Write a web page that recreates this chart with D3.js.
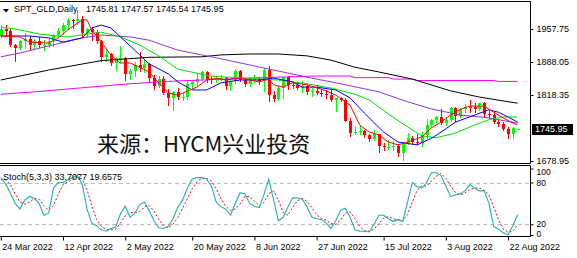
<!DOCTYPE html>
<html><head><meta charset="utf-8">
<script src="https://cdn.jsdelivr.net/npm/d3@7"></script>
<style>
html,body{margin:0;padding:0;background:#fff;overflow:hidden}
svg{display:block;font-family:"Liberation Sans",Arial,sans-serif}
</style></head><body>
<svg id="c" width="577" height="258"></svg>
<script>
const dates = ["2022-03-24","2022-03-25","2022-03-28","2022-03-29","2022-03-30","2022-03-31","2022-04-01","2022-04-04","2022-04-05","2022-04-06","2022-04-07","2022-04-08","2022-04-11","2022-04-12","2022-04-13","2022-04-14","2022-04-18","2022-04-19","2022-04-20","2022-04-21","2022-04-22","2022-04-25","2022-04-26","2022-04-27","2022-04-28","2022-04-29","2022-05-02","2022-05-03","2022-05-04","2022-05-05","2022-05-06","2022-05-09","2022-05-10","2022-05-11","2022-05-12","2022-05-13","2022-05-16","2022-05-17","2022-05-18","2022-05-19","2022-05-20","2022-05-23","2022-05-24","2022-05-25","2022-05-26","2022-05-27","2022-05-30","2022-05-31","2022-06-01","2022-06-02","2022-06-03","2022-06-06","2022-06-07","2022-06-08","2022-06-09","2022-06-10","2022-06-13","2022-06-14","2022-06-15","2022-06-16","2022-06-17","2022-06-20","2022-06-21","2022-06-22","2022-06-23","2022-06-24","2022-06-27","2022-06-28","2022-06-29","2022-06-30","2022-07-01","2022-07-04","2022-07-05","2022-07-06","2022-07-07","2022-07-08","2022-07-11","2022-07-12","2022-07-13","2022-07-14","2022-07-15","2022-07-18","2022-07-19","2022-07-20","2022-07-21","2022-07-22","2022-07-25","2022-07-26","2022-07-27","2022-07-28","2022-07-29","2022-08-01","2022-08-02","2022-08-03","2022-08-04","2022-08-05","2022-08-08","2022-08-09","2022-08-10","2022-08-11","2022-08-12","2022-08-15","2022-08-16","2022-08-17","2022-08-18","2022-08-19","2022-08-22","2022-08-23","2022-08-24"];
const open  = [1943,1958,1954,1923,1918,1933,1937,1925,1933,1923,1925,1932,1946,1954,1966,1977,1974,1979,1950,1958,1951,1932,1898,1905,1886,1894,1897,1863,1868,1881,1876,1883,1855,1838,1852,1822,1811,1824,1815,1815,1841,1846,1853,1866,1853,1850,1853,1855,1837,1847,1869,1850,1841,1852,1853,1848,1871,1819,1809,1834,1857,1840,1839,1833,1838,1825,1827,1823,1820,1818,1807,1811,1808,1764,1739,1740,1742,1733,1725,1735,1711,1708,1709,1711,1696,1718,1727,1719,1717,1733,1755,1765,1772,1760,1765,1791,1775,1789,1794,1792,1789,1802,1779,1776,1761,1758,1747,1736,1745.81];
const high  = [1966,1966,1960,1926,1935,1950,1944,1937,1941,1934,1939,1948,1959,1970,1981,1979,1998,1985,1960,1961,1956,1935,1916,1907,1898,1921,1898,1874,1889,1910,1892,1885,1860,1859,1858,1830,1826,1834,1823,1848,1849,1865,1869,1869,1857,1858,1860,1856,1849,1874,1871,1855,1856,1860,1857,1876,1879,1826,1838,1857,1858,1846,1846,1847,1839,1833,1840,1832,1829,1829,1813,1815,1812,1770,1752,1752,1744,1736,1745,1737,1716,1723,1722,1714,1720,1739,1731,1737,1740,1767,1767,1775,1788,1771,1794,1792,1791,1800,1807,1802,1802,1804,1784,1782,1765,1761,1750,1750,1747.57];
const low   = [1941,1944,1922,1890,1915,1917,1915,1917,1919,1914,1920,1922,1940,1948,1958,1960,1969,1944,1940,1935,1929,1891,1891,1881,1872,1889,1850,1853,1859,1869,1866,1848,1832,1836,1821,1798,1787,1810,1807,1810,1834,1840,1850,1846,1844,1846,1849,1830,1828,1843,1847,1837,1837,1846,1842,1826,1805,1806,1807,1812,1832,1833,1830,1825,1820,1816,1821,1816,1812,1805,1784,1805,1764,1732,1736,1737,1730,1722,1723,1697,1702,1704,1703,1690,1681,1715,1714,1714,1711,1727,1753,1759,1758,1754,1763,1764,1771,1782,1782,1783,1787,1772,1770,1759,1753,1745,1728,1727,1745.54];
const close = [1958,1954,1923,1918,1933,1937,1925,1933,1923,1925,1932,1946,1954,1966,1977,1974,1979,1950,1958,1951,1932,1898,1905,1886,1894,1897,1863,1868,1881,1876,1883,1855,1838,1852,1822,1811,1824,1815,1815,1841,1846,1853,1866,1853,1850,1853,1855,1837,1847,1869,1850,1841,1852,1853,1848,1871,1819,1809,1834,1857,1840,1839,1833,1838,1825,1827,1823,1820,1818,1807,1811,1808,1764,1739,1740,1742,1733,1725,1735,1711,1708,1709,1711,1696,1718,1727,1719,1717,1733,1755,1765,1772,1760,1765,1791,1775,1789,1794,1792,1789,1802,1779,1776,1761,1758,1747,1736,1748,1745.95];

// moving averages: [bar index, price]
const maRed = [[0,1943],[4,1941],[6,1930],[10,1928],[12,1939],[14,1956],[17,1977],[18,1977],[19,1956],[21,1930],[23,1903],[25,1886],[27,1886],[29,1877],[31,1867],[33,1844],[35,1823],[37,1818],[41,1835],[43,1850],[45,1854],[47,1850],[50,1854],[54,1846],[56,1852],[57,1840],[59,1835],[61,1844],[64,1840],[68,1827],[70,1818],[73,1797],[75,1755],[77,1740],[79,1734],[81,1719],[83,1713],[85,1719],[88,1730],[90,1749],[92,1761],[94,1776],[96,1788],[98,1795],[101,1795],[103,1782],[105,1770],[107,1759],[108,1755]];
const maBlue = [[0,1943],[6,1943],[10,1939],[13,1930],[17,1939],[19,1960],[21,1966],[23,1960],[25,1941],[28,1913],[31,1884],[35,1863],[37,1846],[40,1829],[43,1829],[46,1844],[50,1850],[54,1850],[57,1854],[61,1846],[63,1835],[66,1835],[70,1829],[73,1812],[76,1780],[80,1740],[83,1719],[87,1713],[90,1727],[92,1740],[95,1761],[99,1776],[102,1787],[104,1782],[106,1772],[108,1761]];
const maGreen = [[0,1962],[4,1956],[8,1947],[14,1941],[18,1947],[21,1951],[25,1941],[29,1924],[33,1901],[37,1873],[44,1858],[51,1854],[58,1850],[64,1842],[69,1833],[74,1820],[77,1808],[81,1778],[85,1751],[88,1732],[91,1728],[95,1738],[99,1755],[102,1766],[105,1772],[108,1772]];
const maPurple = [[0,1899],[4,1907],[10,1922],[17,1939],[21,1945],[27,1941],[31,1934],[37,1913],[44,1899],[51,1884],[58,1869],[65,1854],[72,1840],[79,1825],[85,1804],[90,1789],[96,1776],[102,1770],[108,1759]];
const maBlack = [[0,1850],[10,1871],[21,1891],[31,1898],[42,1899],[46,1903],[52,1905],[58,1905],[64,1901],[69,1892],[74,1877],[79,1867],[86,1852],[94,1827],[100,1814],[108,1801]];
const maMagenta = [[0,1820],[7,1825],[14,1831],[21,1837],[27,1842],[33,1846],[37,1848],[52,1854],[58,1856],[66,1858.5],[73,1858.5],[74,1855],[81,1855],[82,1852],[86,1852],[87,1849],[103,1849],[104,1847],[108,1847]];

const stochK = [87,78,65,50,42,55,60,57,50,33,36,72,80,80,84,87,90,78,42,22,18,12,10,14,16,35,46,30,36,48,52,40,25,15,14,17,28,45,55,72,85,87,87,85,75,52,45,42,33,50,65,64,50,46,44,63,85,55,25,30,45,58,58,56,45,30,28,27,22,14,25,40,43,30,12,10,10,9,20,33,33,28,24,27,24,52,80,74,72,80,94,94,90,75,60,62,64,68,77,72,68,68,50,17,13,8,5,18,33.7077];
const stochD = [84,84,77,64,52,49,52,57,56,47,40,47,63,77,81,84,87,85,70,47,27,17,13,12,13,22,32,37,37,38,45,47,39,27,18,15,20,30,43,57,71,81,86,86,82,71,57,46,40,42,49,60,60,53,47,51,64,68,55,37,33,44,54,57,53,44,34,28,26,21,20,26,36,38,28,17,11,10,13,21,29,31,28,26,25,34,52,69,75,75,82,89,93,86,75,66,62,65,70,72,72,69,62,45,27,13,9,10,19.6575];

const priceTicks = [1957.75, 1888.05, 1818.35, 1678.95];
const lastPrice = 1745.95;
const stochLevels = [80, 20];
const stochTicks = [100, 80, 20, 0];
const tickDates = ["2022-03-24","2022-04-12","2022-05-02","2022-05-20","2022-06-08","2022-06-27","2022-07-15","2022-08-03","2022-08-22"];
const tickLabels = ["24 Mar 2022","12 Apr 2022","2 May 2022","20 May 2022","8 Jun 2022","27 Jun 2022","15 Jul 2022","3 Aug 2022","22 Aug 2022"];
const headerSymbol = "SPT_GLD,Daily";
const headerValues = "1745.81 1747.57 1745.54 1745.95";
const stochTitle = "Stoch(5,3,3) 33.7077 19.6575";
const watermark = "来源：HYCM兴业投资";

const svg = d3.select("#c");
const right = 530;
const mainTop = 1.5, mainBot = 163.5, stTop = 165.5, stBot = 236.5;

const x = d3.scalePoint().domain(dates).range([0.8, 517.6]);
const xi = i => x(dates[i]);
const y = d3.scaleLinear().domain([1678.95, 1957.75]).range([161, 29]);
const ys = d3.scaleLinear().domain([20, 80]).range([224.3, 182.5]);

const defs = svg.append("defs");
defs.append("clipPath").attr("id","cm").append("rect").attr("x",0).attr("y",mainTop).attr("width",right).attr("height",mainBot-mainTop);
defs.append("clipPath").attr("id","cs").append("rect").attr("x",0).attr("y",stTop).attr("width",right).attr("height",stBot-stTop);

// main panel
const gm = svg.append("g").attr("clip-path","url(#cm)");
const maLine = d3.line().x(d => xi(d[0])).y(d => y(d[1]));
const mas = [[maMagenta,"#ff00ff"],[maBlack,"#000000"],[maPurple,"#9b30d9"],[maGreen,"#00e000"],[maBlue,"#0000ff"],[maRed,"#ff0000"]];

const bars = dates.map((d,i)=>({i,o:open[i],h:high[i],l:low[i],c:close[i]}));
const cg = gm.append("g");
bars.forEach(b => {
  const cx = Math.round(xi(b.i));
  const col = b.c >= b.o ? "#00ff00" : "#ff0000";
  cg.append("line").attr("x1",cx+0.5).attr("x2",cx+0.5).attr("y1",Math.round(y(b.h))).attr("y2",Math.round(y(b.l))+1).attr("stroke",col).attr("stroke-width",1);
  const t = Math.round(y(Math.max(b.o,b.c))), bt = Math.round(y(Math.min(b.o,b.c)));
  cg.append("rect").attr("x",cx-1).attr("y",t).attr("width",3).attr("height",Math.max(1,bt-t)).attr("fill",col);
});
mas.forEach(([data,col]) => {
  gm.append("path").attr("d",maLine(data)).attr("fill","none").attr("stroke",col).attr("stroke-width",1);
});

// watermark
svg.append("text").attr("x",97).attr("y",152).attr("font-family","'Noto Sans CJK SC',sans-serif").attr("font-size",22).attr("fill","#111").text(watermark);

// header
svg.append("path").attr("d","M3,9 L9,9 L6,12.5 Z").attr("fill","#000");
svg.append("text").attr("x",14).attr("y",12).attr("font-size",9).attr("fill","#000").text(headerSymbol);
svg.append("text").attr("x",86).attr("y",12).attr("font-size",9).attr("fill","#000").text(headerValues);

// frames
const fr = svg.append("g").attr("stroke","#000").attr("stroke-width",1).attr("fill","none");
fr.append("path").attr("d",`M-1,${mainTop}H${right+0.5}V${mainBot}H-1`);
fr.append("path").attr("d",`M-1,${stTop}H${right+0.5}V${stBot}H-1`);

// price axis
const pa = svg.append("g").attr("transform",`translate(${right+0.5},0)`)
  .call(d3.axisRight(y).tickValues(priceTicks).tickSize(3).tickPadding(3).tickFormat(d3.format(".2f")));
pa.select(".domain").remove();
pa.selectAll("text").attr("font-size",9).attr("font-family","'Liberation Sans',Arial,sans-serif").attr("fill","#000");
pa.selectAll("line").attr("stroke","#000");
// current price box
const ly = y(lastPrice);
svg.append("rect").attr("x",532).attr("y",Math.round(ly)-5).attr("width",41).attr("height",11).attr("fill","#000");
svg.append("text").attr("x",535).attr("y",ly).attr("dy","0.33em").attr("font-size",9).attr("fill","#fff").text(d3.format(".2f")(lastPrice));

// stochastic panel
const gs = svg.append("g").attr("clip-path","url(#cs)");
stochLevels.forEach(v => {
  gs.append("line").attr("x1",0).attr("x2",right).attr("y1",Math.round(ys(v))+0.5).attr("y2",Math.round(ys(v))+0.5)
    .attr("stroke","#bdbdbd").attr("stroke-dasharray","4,3");
});
const sl = d3.line().x((d,i)=>xi(i)).y(d=>ys(d));
gs.append("path").attr("d",sl(stochD)).attr("fill","none").attr("stroke","#ff0000").attr("stroke-width",1).attr("stroke-dasharray","2,2");
gs.append("path").attr("d",sl(stochK)).attr("fill","none").attr("stroke","#20b2aa").attr("stroke-width",1.1);
svg.append("text").attr("x",3).attr("y",180).attr("font-size",9).attr("fill","#000").text(stochTitle);

const sa = svg.append("g").attr("transform",`translate(${right+0.5},0)`)
  .call(d3.axisRight(ys).tickValues(stochTicks).tickSize(3).tickPadding(3));
sa.select(".domain").remove();
sa.selectAll("text").attr("font-size",8.5).attr("font-family","'Liberation Sans',Arial,sans-serif").attr("fill","#000");
sa.selectAll("line").attr("stroke","#000");
sa.selectAll(".tick").filter(d=>d===100).attr("transform","translate(0,169)").select("text").attr("y",3);
sa.selectAll(".tick").filter(d=>d===0).attr("transform","translate(0,235.5)").select("text").attr("y",-1);
sa.selectAll(".tick").filter(d=>d===20).select("text").attr("y",-1);

// date axis
const tickMap = new Map(tickDates.map((d,i)=>[d,tickLabels[i]]));
const da = svg.append("g").attr("transform",`translate(0,${stBot})`)
  .call(d3.axisBottom(x).tickValues(tickDates).tickSize(4).tickFormat(d=>tickMap.get(d)));
da.select(".domain").remove();
da.selectAll("line").attr("stroke","#000");
da.selectAll("text").attr("font-size",9).attr("font-family","'Liberation Sans',Arial,sans-serif").attr("fill","#000")
  .attr("text-anchor","start").attr("x",1).attr("y",7);
</script>
</body></html>
